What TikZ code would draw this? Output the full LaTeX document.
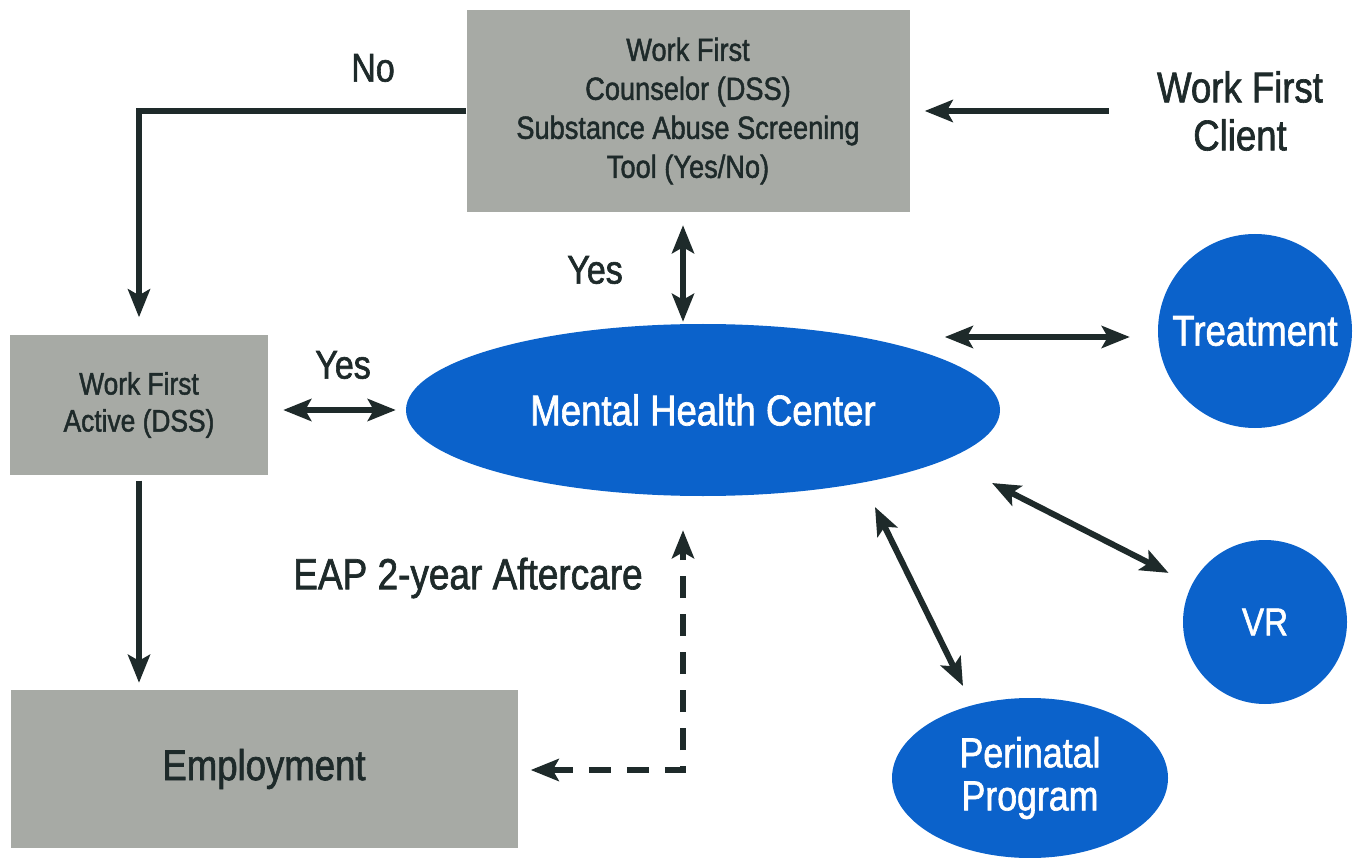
\documentclass[tikz,border=0pt]{standalone}
\usepackage{fontspec}
\setmainfont[FakeStretch=0.85,FakeBold=1.5]{Liberation Sans}
\usetikzlibrary{arrows.meta,shapes.geometric,calc}
\definecolor{boxgray}{HTML}{A7AAA5}
\definecolor{mhblue}{HTML}{0B62CB}
\definecolor{ink}{HTML}{1E2A2A}
\begin{document}
\begin{tikzpicture}[x=1pt,y=-1pt,
  graybox/.style={fill=boxgray, inner sep=0pt, align=center, text=ink},
  bluebody/.style={fill=mhblue, text=white, inner sep=0pt, align=center},
  lbl/.style={text=ink, inner sep=0pt, align=center},
  tip/.tip={Stealth[length=28pt,width=22pt,inset=6pt]},
  arr/.style={draw=ink, line width=6pt, -tip},
  darr/.style={draw=ink, line width=6pt, tip-tip},
  dashlink/.style={darr, dash pattern=on 22pt off 16pt},
]
\useasboundingbox (0,0) rectangle (1354,858);

% gray process boxes
\node[graybox, minimum width=443pt, minimum height=202pt,
      font=\fontsize{32pt}{39pt}\selectfont] (screen) at (688,111)
  {Work First\\Counselor (DSS)\\Substance Abuse Screening\\Tool (Yes/No)};
\node[graybox, minimum width=258pt, minimum height=139pt,
      font=\fontsize{31pt}{37pt}\selectfont] (active) at (139,405)
  {Work First\\Active (DSS)};
\node[graybox, minimum width=507pt, minimum height=158pt,
      font=\fontsize{43pt}{48pt}\selectfont] (emp) at (264,769)
  {Employment};

% blue service bodies
\node[bluebody, ellipse, minimum width=594pt, minimum height=172pt,
      font=\fontsize{43pt}{50pt}\selectfont] (mhc) at (703,410)
  {Mental Health Center};
\node[bluebody, circle, minimum size=194pt,
      font=\fontsize{43pt}{48pt}\selectfont] (treat) at (1255,331)
  {Treatment};
\node[bluebody, circle, minimum size=164pt,
      font=\fontsize{39pt}{44pt}\selectfont] (vr) at (1265,622)
  {VR};
\node[bluebody, ellipse, minimum width=276pt, minimum height=160pt,
      font=\fontsize{42pt}{43pt}\selectfont] (peri) at (1030,778)
  {Perinatal\\Program};

% free labels
\node[lbl, font=\fontsize{43pt}{48pt}\selectfont] (client) at (1240,111)
  {Work First\\Client};
\node[lbl, font=\fontsize{40pt}{44pt}\selectfont] (no) at (373,68) {No};
\node[lbl, font=\fontsize{40pt}{44pt}\selectfont] (yes1) at (595,270) {Yes};
\node[lbl, font=\fontsize{40pt}{44pt}\selectfont] (yes2) at (343,365) {Yes};
\node[lbl, font=\fontsize{43.5pt}{48pt}\selectfont] (eap) at (468,578) {EAP 2-year Aftercare};

% connectors
\draw[arr, shorten <=48pt, shorten >=15pt] (client.west) -- (client.west -| screen.east);
\draw[arr, shorten >=18pt] (screen.west) -| (active.north);
\draw[darr, shorten <=13pt, shorten >=2pt]
  ([xshift=-5pt]screen.south) -- ([xshift=-5pt]screen.south |- mhc.north);
\draw[darr, shorten <=15pt, shorten >=10pt] (active.east |- mhc.west) -- (mhc.west);
\draw[darr] ($(treat.west)+(-213,6)$) -- ($(treat.west)+(-28,6)$);
\draw[darr, shorten >=26pt] ($(mhc)+(289,73)$) -- (vr);
\draw[darr] ($(mhc)+(172,97)$) -- ($(peri)+(-67,-92)$);
\draw[arr, shorten <=6pt, shorten >=7pt] (active.south) -- (active.south |- emp.north);
\coordinate (turn) at (683,770);
\draw[dashlink, shorten <=13pt, shorten >=34pt] (emp.east |- turn) -| (mhc.south -| turn);
\end{tikzpicture}
\end{document}
